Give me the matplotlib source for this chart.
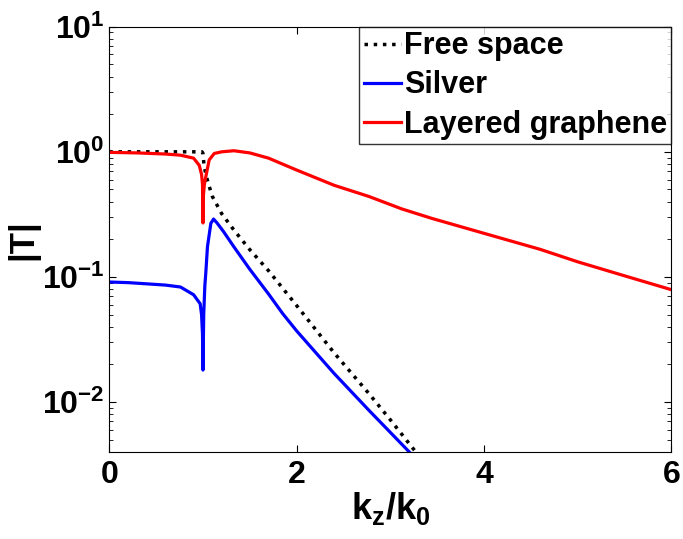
import matplotlib
matplotlib.use("Agg")
import matplotlib.pyplot as plt

plt.rcParams['font.family'] = ['Liberation Sans', 'DejaVu Sans']
plt.rcParams['font.weight'] = 'bold'
plt.rcParams['mathtext.fontset'] = 'custom'
plt.rcParams['mathtext.rm'] = 'Liberation Sans:bold'
plt.rcParams['mathtext.bf'] = 'Liberation Sans:bold'
plt.rcParams['mathtext.it'] = 'Liberation Sans:bold'
plt.rcParams['mathtext.default'] = 'bf'

# values (kz/k0 vs |T|)
free_x = [0, 0.5, 0.99, 1.0, 1.01, 1.03, 1.06, 1.1, 1.2, 1.33, 1.5, 1.7, 2.0, 2.4, 2.77, 3.0, 3.27]
free_y = [1.0, 1.0, 1.0, 0.97, 0.80, 0.66, 0.55, 0.44, 0.32, 0.237, 0.165, 0.112, 0.059, 0.0247, 0.0117, 0.0072, 0.0040]

silver_x = [0, 0.2, 0.4, 0.6, 0.76, 0.9, 0.97, 0.985, 0.995, 1.0, 1.008, 1.02, 1.03, 1.048,
            1.084, 1.113, 1.15, 1.22, 1.33, 1.5, 1.7, 1.85, 2.0, 2.2, 2.4, 2.77, 3.2]
silver_y = [0.091, 0.090, 0.088, 0.086, 0.083, 0.072, 0.061, 0.050, 0.035, 0.018, 0.050, 0.085, 0.107, 0.174,
            0.268, 0.29, 0.27, 0.23, 0.174, 0.115, 0.073, 0.051, 0.037, 0.025, 0.0169, 0.0086, 0.0040]

graphene_x = [0, 0.3, 0.6, 0.76, 0.9, 0.96, 0.985, 0.995, 1.0, 1.005, 1.015, 1.03, 1.066, 1.12, 1.2,
              1.33, 1.5, 1.7, 2.0, 2.4, 2.77, 3.12, 3.44, 4.0, 4.6, 5.0, 5.5, 6.0]
graphene_y = [0.99, 0.98, 0.96, 0.94, 0.89, 0.78, 0.66, 0.55, 0.27, 0.45, 0.55, 0.63, 0.86, 0.97, 1.0,
              1.02, 0.98, 0.89, 0.715, 0.54, 0.44, 0.35, 0.294, 0.223, 0.166, 0.132, 0.102, 0.079]

fig = plt.figure(figsize=(6.83, 5.39), dpi=100)
ax = fig.add_axes([0.16, 0.1614, 0.823, 0.789])

ax.semilogy(free_x, free_y, color='black', linestyle=':', linewidth=2.5, label='Free space')
ax.semilogy(silver_x, silver_y, color='#0000ff', linewidth=2.3, label='Silver')
ax.semilogy(graphene_x, graphene_y, color='#ff0000', linewidth=2.3, label='Layered graphene')

ax.set_xlim(0, 6)
ax.set_ylim(10**-2.4, 10)
ax.set_xticks([0, 2, 4, 6])
ax.set_yticks([1e-2, 1e-1, 1e0, 1e1])
ax.tick_params(axis='both', which='both', direction='in', top=True, right=True, labelsize=23)
ax.tick_params(axis='x', which='minor', top=False, bottom=False)
ax.tick_params(which='major', length=5)
ax.tick_params(which='minor', length=3)
ax.tick_params(axis='x', pad=6)
for lbl in ax.get_xticklabels() + ax.get_yticklabels():
    lbl.set_fontweight('bold')

ax.set_xlabel('k$_z$/k$_0$', fontsize=26, fontweight='bold', labelpad=0)
ax.set_ylabel('|T|', fontsize=25, fontweight='bold', labelpad=2)

leg = ax.legend(loc='upper right', fontsize=22, frameon=True, fancybox=False,
                borderaxespad=0, handlelength=1.2, handletextpad=0.1,
                labelspacing=0.3, borderpad=0.15)
leg.get_frame().set_edgecolor('black')
leg.get_frame().set_linewidth(1.0)
for t in leg.get_texts():
    t.set_fontweight('bold')

fig.savefig('out.png', dpi=100)
